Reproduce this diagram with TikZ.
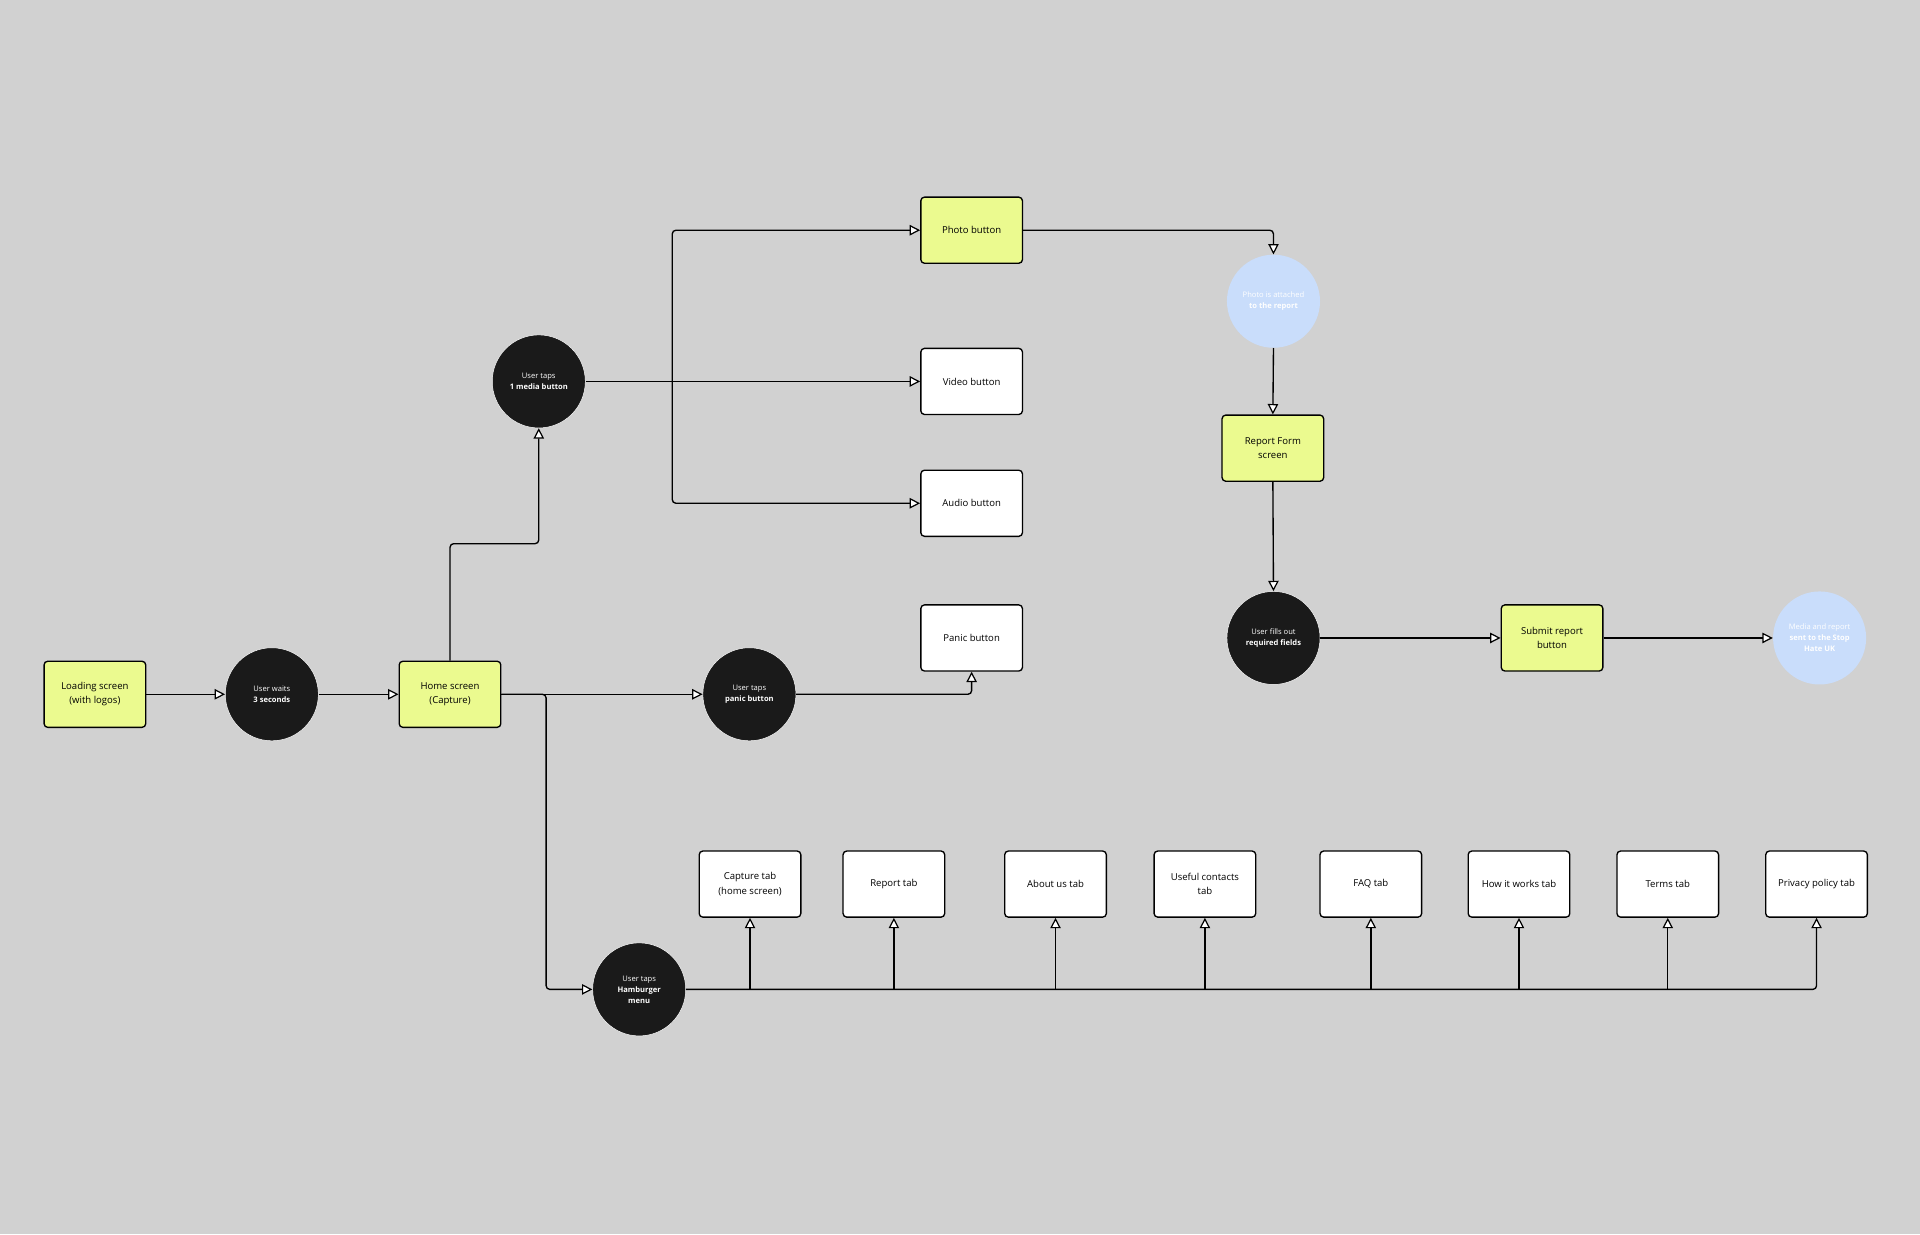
\documentclass[tikz,border=0pt]{standalone}
\usepackage{fontspec}
\setmainfont{Open Sans}
\usetikzlibrary{arrows.meta,calc}
\definecolor{bg}{HTML}{D1D1D1}
\definecolor{ylw}{HTML}{EBFA8F}
\definecolor{lblue}{HTML}{C9DDFB}
\definecolor{dark}{HTML}{1A1A1A}
\begin{document}
\begin{tikzpicture}[x=1pt,y=-1pt,
  screen/.style={draw=black,line width=1.1pt,rounded corners=3pt,fill=ylw,minimum width=83pt,minimum height=54pt,align=center,font=\fontsize{7.8}{11.5}\selectfont,inner sep=2pt},
  plainbox/.style={screen,fill=white},
  act/.style={circle,fill=dark,draw=white,line width=0.4pt,minimum size=76pt,inner sep=0pt,align=center,text=white,font=\fontsize{6.2}{9}\selectfont},
  res/.style={act,fill=lblue,draw=none},
  arr/.style={line width=1.1pt,rounded corners=3pt,-{Triangle[open,fill=white,length=8.5pt,width=8.5pt,line width=1pt]}},
  ln/.style={line width=1.1pt,rounded corners=3pt}
]
\fill[bg] (0,0) rectangle (1568,1008);
\useasboundingbox (0,0) rectangle (1568,1008);

% main row
\node[screen] (load) at (77.5,567) {Loading screen\\(with logos)};
\node[act] (wait) at (222,567) {User waits\\\textbf{3 seconds}};
\node[screen] (home) at (367.5,567) {Home screen\\(Capture)};
\node[act] (panic) at (612,567) {User taps\\\textbf{panic button}};
\node[plainbox] (pbtn) at (793.5,521) {Panic button};

% media
\node[act] (media) at (440,311.5) {User taps\\\textbf{1 media button}};
\node[screen] (photo) at (793.5,188) {Photo button};
\node[plainbox] (video) at (793.5,311.5) {Video button};
\node[plainbox] (audio) at (793.5,411) {Audio button};

% report flow
\node[res] (att) at (1040,246) {Photo is attached\\\textbf{to the report}};
\node[screen] (form) at (1039.5,366) {Report Form\\screen};
\node[act] (fills) at (1040,521) {User fills out\\\textbf{required fields}};
\node[screen] (submit) at (1267.5,521) {Submit report\\button};
\node[res] (sent) at (1486,521) {Media and report\\\textbf{sent to the Stop}\\\textbf{Hate UK}};

% hamburger
\node[act] (ham) at (522,808) {User taps\\\textbf{Hamburger}\\\textbf{menu}};
\node[plainbox] (t1) at (612.5,722) {Capture tab\\(home screen)};
\node[plainbox] (t2) at (730,722) {Report tab};
\node[plainbox] (t3) at (862,722) {About us tab};
\node[plainbox] (t4) at (984,722) {Useful contacts\\tab};
\node[plainbox] (t5) at (1119.5,722) {FAQ tab};
\node[plainbox] (t6) at (1240.5,722) {How it works tab};
\node[plainbox] (t7) at (1362,722) {Terms tab};
\node[plainbox] (t8) at (1483.5,722) {Privacy policy tab};

\coordinate (hm) at (400,444);
\coordinate (hj) at (446,567);
\coordinate (mj) at (549,311.5);

% connectors
\draw[arr] (load.east) -- (wait.west);
\draw[arr] (wait.east) -- (home.west);
\draw[arr] (home.east) -- (panic.west);
\draw[arr] (home.east) -- (hj) |- (ham.west);
\draw[arr] (home.north) -- (home.north |- hm) -| (media.south);
\draw[arr] (panic.east) -| (pbtn.south);
\draw[arr] (media.east) -- (video.west);
\draw[arr] (mj) |- (photo.west);
\draw[arr] (mj) |- (audio.west);
\draw[arr] (photo.east) -| (att.north);
\draw[arr] (att.south) -- (form.north);
\draw[arr] (form.south) -- (fills.north);
\draw[arr] (fills.east) -- (submit.west);
\draw[arr] (submit.east) -- (sent.west);

\draw[arr] (ham.east) -| (t8.south);
\foreach \t in {t1,t2,t3,t4,t5,t6,t7}{
  \draw[arr] (\t.south |- ham.east) -- (\t.south);
}
\end{tikzpicture}
\end{document}
